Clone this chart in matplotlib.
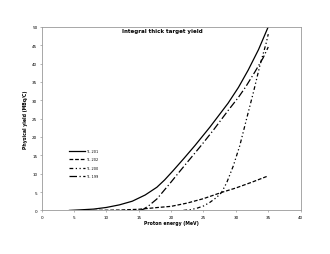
import matplotlib
matplotlib.use('Agg')
import matplotlib.pyplot as plt

# values
x1 = [4.3, 6, 8, 10, 12, 14, 16, 17.8, 19, 20.3, 22, 23.7, 26, 28.8, 30.4, 31.9, 33.5, 35]
y1 = [0, 0.15, 0.35, 0.8, 1.5, 2.5, 4.2, 6.3, 8.3, 10.8, 14.2, 17.7, 22.7, 29.2, 33.5, 38.2, 43.8, 50.0]

x2 = [8, 10, 12, 15, 18, 20, 22.5, 25, 27.8, 30, 32.5, 35]
y2 = [0, 0.05, 0.1, 0.3, 0.8, 1.1, 2.0, 3.2, 4.9, 6.1, 7.7, 9.4]

x3 = [21.9, 23, 24, 25, 26, 27, 27.8, 28.6, 29.6, 30.6, 31.65, 32.7, 33.7, 34.7, 35]
y3 = [0, 0.2, 0.6, 1.2, 2.2, 3.5, 4.9, 7.6, 12.1, 17.6, 24.9, 32.1, 39.4, 45.7, 48.0]

x4 = [15.2, 15.7, 16.5, 17.8, 19.8, 21, 22.4, 24.7, 26.5, 28.8, 30.4, 31.5, 32.9, 34.2, 35]
y4 = [0, 0.3, 1.2, 3.1, 7.3, 9.9, 12.9, 17.8, 21.8, 27.2, 30.8, 33.6, 37.6, 41.5, 44.5]

labels = ['Tl- 201', 'Tl- 202', 'Tl- 200', 'Tl- 199']

fig = plt.figure(figsize=(3.3, 2.55), dpi=100)
ax = fig.add_axes([0.126, 0.171, 0.785, 0.72])
ax.plot(x1, y1, color='black', lw=0.9, label=labels[0])
ax.plot(x2, y2, color='black', lw=0.9, ls=(0, (3, 1.5)), label=labels[1])
ax.plot(x3, y3, color='black', lw=0.9, ls=(0, (3, 2, 1, 2, 1, 2)), label=labels[2])
ax.plot(x4, y4, color='black', lw=0.9, ls=(0, (6, 2, 1, 2)), label=labels[3])

ax.set_xlim(0, 40)
ax.set_ylim(0, 50)
ax.set_xticks(range(0, 41, 5))
ax.set_yticks(range(0, 51, 5))
ax.tick_params(labelsize=3, length=1.5, width=0.5, color='#999999', pad=1.5)
for s in ax.spines.values():
    s.set_color('#999999')
    s.set_linewidth(0.6)
ax.set_xlabel('Proton energy (MeV)', fontsize=3.3, fontweight='bold', labelpad=1)
ax.set_ylabel('Physical yield (MBq/C)', fontsize=3.3, fontweight='bold', labelpad=3)
ax.text(18.7, 49.6, 'Integral thick target yield', fontsize=4, fontweight='bold',
        ha='center', va='top')
ax.legend(loc='upper left', bbox_to_anchor=(0.1, 0.345), frameon=False, fontsize=2.5,
          handlelength=4.5, labelspacing=1.3, borderpad=0, handletextpad=0.4)
fig.savefig('out.png', dpi=100)
